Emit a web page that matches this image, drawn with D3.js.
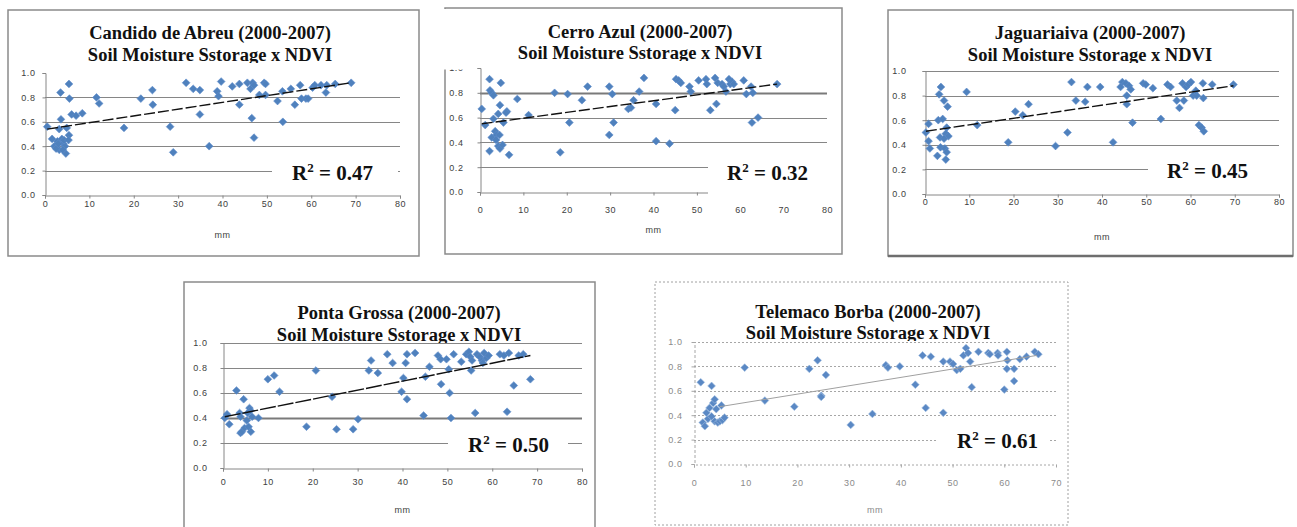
<!DOCTYPE html>
<html lang="en">
<head>
<meta charset="UTF-8">
<title>Soil Moisture Sstorage x NDVI</title>
<style>
  body { margin: 0; background: #fff; }
  svg { display: block; }
</style>
</head>
<body>
<script src="https://d3js.org/d3.v7.min.js"></script>
<script>
// ---- data ----
var stationTitles = [
    "Candido de Abreu (2000-2007)",
    "Cerro Azul (2000-2007)",
    "Jaguariaiva (2000-2007)",
    "Ponta Grossa (2000-2007)",
    "Telemaco Borba (2000-2007)"
];
var subtitle = "Soil Moisture Sstorage x NDVI";
var xLabel = "mm";
var r2Values = ["0.47", "0.32", "0.45", "0.50", "0.61"];
var yTicks = [0, 0.2, 0.4, 0.6, 0.8, 1.0];
var xTicks80 = [0, 10, 20, 30, 40, 50, 60, 70, 80];
var xTicks70 = [0, 10, 20, 30, 40, 50, 60, 70];

// [soil moisture storage (mm), NDVI]
var candido = [
    [0.5, 0.56], [1.6, 0.46], [2.1, 0.40], [2.8, 0.44], [3.2, 0.37], [3.5, 0.84], [3.6, 0.62],
    [3.2, 0.54], [3.8, 0.46], [4.1, 0.42], [4.5, 0.40], [4.3, 0.45], [4.7, 0.34], [4.9, 0.55],
    [5.4, 0.91], [5.5, 0.79], [5.4, 0.49], [5.3, 0.45], [2.5, 0.38], [3.0, 0.42], [4.0, 0.37],
    [6.0, 0.66], [7.0, 0.65], [8.4, 0.67], [11.6, 0.80], [12.2, 0.75], [17.8, 0.55], [21.6, 0.79],
    [24.2, 0.86], [24.3, 0.74], [28.2, 0.56], [28.9, 0.35], [31.8, 0.92], [33.4, 0.87], [34.9, 0.86],
    [34.9, 0.66], [37.0, 0.40], [38.8, 0.85], [39.1, 0.81], [39.7, 0.93], [42.2, 0.89], [43.8, 0.91],
    [43.8, 0.74], [45.6, 0.92], [46.3, 0.87], [46.8, 0.92], [47.1, 0.90], [46.6, 0.63], [47.1, 0.47],
    [48.3, 0.82], [49.4, 0.92], [49.7, 0.91], [49.7, 0.82], [52.4, 0.77], [53.5, 0.85], [53.6, 0.60],
    [55.4, 0.87], [56.3, 0.74], [57.5, 0.90], [57.8, 0.79], [58.8, 0.79], [59.3, 0.79], [60.3, 0.88],
    [60.8, 0.90], [62.2, 0.90], [63.5, 0.90], [63.3, 0.84], [65.4, 0.91], [69.0, 0.92]
];
var cerro = [
    [0.4, 0.67], [1.2, 0.54], [2.2, 0.91], [2.3, 0.82], [2.7, 0.80], [3.1, 0.78], [2.2, 0.33],
    [3.1, 0.59], [2.7, 0.44], [3.5, 0.49], [3.8, 0.46], [4.2, 0.63], [4.6, 0.70], [4.8, 0.88],
    [4.5, 0.46], [3.7, 0.42], [4.2, 0.37], [4.6, 0.35], [5.2, 0.38], [5.4, 0.56], [6.2, 0.65],
    [6.0, 0.64], [6.7, 0.30], [8.6, 0.75], [11.2, 0.62], [17.2, 0.80], [18.5, 0.32], [20.2, 0.79],
    [20.6, 0.56], [23.5, 0.74], [24.8, 0.85], [29.8, 0.85], [29.8, 0.46], [30.5, 0.79], [30.8, 0.56],
    [34.2, 0.67], [34.8, 0.68], [35.4, 0.74], [36.7, 0.81], [37.8, 0.92], [40.6, 0.71], [40.6, 0.41],
    [43.7, 0.39], [45.0, 0.66], [45.2, 0.91], [45.8, 0.90], [46.3, 0.88], [48.3, 0.85], [48.6, 0.81],
    [50.4, 0.90], [52.1, 0.91], [52.3, 0.87], [53.1, 0.66], [54.2, 0.92], [54.5, 0.71], [54.8, 0.88],
    [55.8, 0.87], [56.2, 0.85], [56.7, 0.81], [57.4, 0.91], [57.7, 0.87], [58.1, 0.89], [58.5, 0.87],
    [60.8, 0.90], [61.4, 0.79], [62.5, 0.85], [62.7, 0.56], [62.9, 0.80], [64.1, 0.60], [68.5, 0.87]
];
var jaguariaiva = [
    [0.2, 0.50], [0.8, 0.57], [0.8, 0.43], [1.1, 0.37], [2.8, 0.31], [3.0, 0.60], [3.2, 0.81],
    [3.6, 0.87], [3.4, 0.46], [3.5, 0.38], [4.0, 0.61], [4.3, 0.76], [4.5, 0.37], [4.7, 0.28],
    [4.9, 0.54], [4.9, 0.34], [5.1, 0.71], [4.7, 0.49], [5.3, 0.47], [4.3, 0.45], [9.4, 0.83],
    [11.8, 0.56], [18.8, 0.42], [20.4, 0.67], [22.1, 0.64], [23.4, 0.73], [29.5, 0.39], [32.2, 0.50],
    [33.1, 0.91], [34.1, 0.76], [36.2, 0.75], [36.7, 0.87], [39.6, 0.87], [42.5, 0.42], [44.6, 0.91],
    [44.2, 0.87], [45.4, 0.90], [45.6, 0.80], [45.6, 0.73], [46.1, 0.88], [46.5, 0.85], [46.9, 0.58],
    [49.3, 0.90], [49.9, 0.89], [51.5, 0.86], [53.3, 0.61], [54.8, 0.89], [55.5, 0.87], [56.9, 0.76],
    [57.5, 0.70], [58.2, 0.90], [58.5, 0.76], [59.0, 0.87], [59.5, 0.89], [60.1, 0.91], [60.6, 0.80],
    [61.4, 0.80], [61.2, 0.84], [61.9, 0.56], [62.5, 0.54], [63.0, 0.51], [62.8, 0.90], [62.9, 0.78],
    [64.9, 0.89], [69.7, 0.89]
];
var pontaGrossa = [
    [0.4, 0.40], [0.9, 0.43], [1.4, 0.35], [3.0, 0.62], [3.7, 0.44], [3.9, 0.41], [3.9, 0.28],
    [4.2, 0.29], [4.6, 0.55], [4.8, 0.32], [5.3, 0.38], [5.5, 0.44], [5.7, 0.33], [5.9, 0.48],
    [6.1, 0.46], [6.2, 0.29], [6.5, 0.41], [7.9, 0.40], [10.0, 0.71], [11.4, 0.74], [12.6, 0.61],
    [18.6, 0.33], [20.7, 0.78], [24.3, 0.57], [25.3, 0.31], [29.0, 0.31], [30.1, 0.39], [32.5, 0.78],
    [33.0, 0.86], [34.5, 0.76], [36.6, 0.91], [37.8, 0.84], [39.8, 0.61], [40.2, 0.72], [40.7, 0.84],
    [41.0, 0.91], [41.0, 0.55], [42.8, 0.92], [44.7, 0.42], [45.1, 0.73], [46.0, 0.81], [47.9, 0.90],
    [48.5, 0.87], [48.6, 0.67], [49.8, 0.87], [50.3, 0.79], [50.5, 0.60], [50.8, 0.40], [51.4, 0.91],
    [53.1, 0.85], [54.2, 0.91], [54.8, 0.93], [55.1, 0.89], [55.3, 0.78], [55.5, 0.86], [56.2, 0.44],
    [56.6, 0.91], [57.2, 0.89], [57.7, 0.86], [57.9, 0.84], [58.2, 0.92], [58.7, 0.88], [59.2, 0.90],
    [61.7, 0.91], [62.6, 0.90], [63.3, 0.45], [63.7, 0.92], [64.8, 0.66], [65.9, 0.90], [66.9, 0.91],
    [68.5, 0.71]
];
var telemacoBorba = [
    [1.3, 0.67], [1.7, 0.34], [2.1, 0.31], [2.4, 0.42], [2.7, 0.37], [3.0, 0.46], [3.4, 0.64],
    [3.4, 0.39], [3.7, 0.50], [4.0, 0.53], [4.0, 0.35], [4.3, 0.45], [4.6, 0.34], [5.0, 0.35],
    [5.3, 0.48], [5.5, 0.36], [5.9, 0.38], [9.8, 0.79], [13.7, 0.52], [19.4, 0.47], [22.3, 0.78],
    [23.9, 0.85], [24.6, 0.56], [24.6, 0.55], [25.5, 0.73], [30.3, 0.32], [34.5, 0.41], [37.1, 0.81],
    [37.5, 0.79], [39.8, 0.80], [42.8, 0.65], [44.2, 0.89], [44.8, 0.46], [45.8, 0.88], [48.2, 0.84],
    [48.2, 0.42], [49.5, 0.84], [50.1, 0.82], [50.8, 0.77], [51.5, 0.78], [52.1, 0.89], [52.6, 0.95],
    [53.0, 0.91], [53.4, 0.84], [53.7, 0.63], [55.0, 0.92], [56.9, 0.91], [57.2, 0.90], [58.7, 0.91],
    [58.8, 0.89], [60.0, 0.61], [60.5, 0.92], [60.6, 0.85], [60.5, 0.78], [61.9, 0.78], [61.9, 0.68],
    [63.0, 0.86], [64.3, 0.88], [65.9, 0.92], [66.6, 0.90]
];

// linear trend lines as drawn (start, end)
var trendCandido = [[0.5, 0.54], [69.0, 0.92]];
var trendCerro = [[0.4, 0.55], [68.5, 0.87]];
var trendJaguariaiva = [[0.2, 0.51], [69.7, 0.88]];
var trendPonta = [[0.4, 0.41], [68.5, 0.90]];
var trendTelemaco = [[5.0, 0.47], [66.3, 0.89]];

var seriesList = [candido, cerro, jaguariaiva, pontaGrossa, telemacoBorba];
var trendList = [trendCandido, trendCerro, trendJaguariaiva, trendPonta, trendTelemaco];
var xTickList = [xTicks80, xTicks80, xTicks80, xTicks80, xTicks70];

// ---- layout (pixel positions of each chart box) ----
var layout = [
    { box: [8, 10, 419, 256], plot: [45, 73, 400, 195], titleX: 210, titleY: [39, 61], yLabR: 35, xLabY: 204, mmY: 235, r2: [292, 180], r2Mask: [272, 158, 126, 28], gridTop: false, dash: '11,3' },
    { box: [445, 8, 842, 254], plot: [480, 68, 827, 192], titleX: 640, titleY: [38, 59], yLabR: 463, xLabY: 210, mmY: 230, r2: [727, 180], r2Mask: [708, 160, 128, 36], gridTop: false, boldGrid: 0.8, cutTopLabel: 69.5, dash: '11,3' },
    { box: [888, 10, 1293, 256], plot: [925, 71, 1279, 194], titleX: 1090, titleY: [39, 61], yLabR: 906, xLabY: 202, mmY: 237, r2: [1167, 178], r2Mask: [1148, 152, 131, 28], gridTop: true, dash: '11,3', darkBottom: true },
    { box: [184, 282, 595, 560], plot: [223, 343, 582, 468], titleX: 399, titleY: [319, 341], yLabR: 207, xLabY: 482, mmY: 510, r2: [468, 452], r2Mask: [448, 430, 120, 28], gridTop: true, boldGrid: 0.4, dash: '16,2' },
    { box: [655, 282, 1068, 525], plot: [694, 342, 1056, 464], titleX: 868, titleY: [318, 339], yLabR: 682, xLabY: 483, mmY: 510, r2: [957, 448], r2Mask: [937, 428, 112, 24], gridTop: true, dotted: true }
];

var width = 1297;
var height = 527;
var svg = d3.select('body').append('svg').attr('width', width).attr('height', height);
svg.append('rect').attr('width', width).attr('height', height).attr('fill', '#fff');

var serif = '"Liberation Serif", "Times New Roman", serif';
var sans = '"Liberation Sans", Arial, sans-serif';
var diamond = d3.symbol().type(d3.symbolSquare).size(30);

layout.forEach(function (L, i) {
    var g = svg.append('g');
    var dotted = !!L.dotted;
    var lineColor = dotted ? '#a6a6a6' : '#868686';
    var labelColor = dotted ? '#8a8a8a' : '#404040';
    var xTicks = xTickList[i];

    // chart border
    g.append('rect')
        .attr('x', L.box[0]).attr('y', L.box[1])
        .attr('width', L.box[2] - L.box[0]).attr('height', L.box[3] - L.box[1])
        .attr('fill', '#fff')
        .attr('stroke', dotted ? '#a0a0a0' : '#8a8a8a')
        .attr('stroke-width', dotted ? 1 : 1.5)
        .attr('stroke-dasharray', dotted ? '2,2' : null);
    if (L.darkBottom) {
        g.append('line')
            .attr('x1', L.box[0]).attr('x2', L.box[2])
            .attr('y1', L.box[3]).attr('y2', L.box[3])
            .attr('stroke', '#6e6e6e').attr('stroke-width', 2.5);
    }

    var x = d3.scaleLinear().domain([0, d3.max(xTicks)]).range([L.plot[0], L.plot[2]]);
    var y = d3.scaleLinear().domain([0, 1]).range([L.plot[3], L.plot[1]]);

    // title (two lines)
    [stationTitles[i], subtitle].forEach(function (t, k) {
        g.append('text')
            .attr('x', L.titleX).attr('y', L.titleY[k])
            .attr('text-anchor', 'middle')
            .attr('font-family', serif).attr('font-weight', 'bold')
            .attr('font-size', 18.5).attr('fill', '#111')
            .text(t);
    });

    // plot area cuts off the bottom of the title
    g.append('rect')
        .attr('x', L.plot[0] - 2).attr('y', L.titleY[1] + 2)
        .attr('width', L.plot[2] - L.plot[0] + 4).attr('height', L.plot[3] - L.titleY[1] - 2)
        .attr('fill', '#fff');

    // horizontal grid
    var gridVals = yTicks.filter(function (d) { return d > 0 && (L.gridTop || d < 1); });
    g.selectAll('line.grid').data(gridVals).enter().append('line')
        .attr('class', 'grid')
        .attr('x1', L.plot[0]).attr('x2', L.plot[2])
        .attr('y1', function (d) { return Math.round(y(d)) + 0.5; })
        .attr('y2', function (d) { return Math.round(y(d)) + 0.5; })
        .attr('stroke', function (d) { return L.boldGrid === d ? '#7a7a7a' : lineColor; })
        .attr('stroke-width', function (d) { return L.boldGrid === d ? 2 : 1; })
        .attr('stroke-dasharray', dotted ? '2,2' : null);

    // y axis
    var yAxis = g.append('g')
        .attr('transform', 'translate(' + (L.plot[0] + 0.5) + ',0)')
        .call(d3.axisLeft(y).tickValues(yTicks).tickFormat(d3.format('.1f'))
            .tickSizeOuter(0).tickSize(3).tickPadding(L.plot[0] - L.yLabR - 3));
    yAxis.select('.domain').attr('stroke', lineColor).attr('stroke-dasharray', dotted ? '3,2' : null);
    yAxis.selectAll('.tick line').attr('stroke', lineColor);
    yAxis.selectAll('.tick text')
        .attr('font-family', sans).attr('font-size', 9)
        .attr('letter-spacing', '0.6px').attr('fill', labelColor);

    if (L.cutTopLabel) {
        g.append('rect')
            .attr('x', L.yLabR - 22).attr('y', L.box[1] + 1)
            .attr('width', L.plot[0] - L.yLabR + 18).attr('height', L.cutTopLabel - L.box[1] - 1)
            .attr('fill', '#fff');
    }

    // x axis
    var xAxis = g.append('g')
        .attr('transform', 'translate(0,' + (Math.round(y(0)) + 0.5) + ')')
        .call(d3.axisBottom(x).tickValues(xTicks)
            .tickSizeOuter(0).tickSize(3).tickPadding(L.xLabY - y(0) - 6.5));
    xAxis.select('.domain').attr('stroke', lineColor).attr('stroke-dasharray', dotted ? '2,2' : null);
    xAxis.selectAll('.tick line').attr('stroke', lineColor);
    xAxis.selectAll('.tick text')
        .attr('font-family', sans).attr('font-size', 9)
        .attr('letter-spacing', '0.6px').attr('fill', labelColor);

    // axis title
    g.append('text')
        .attr('x', (L.plot[0] + L.plot[2]) / 2).attr('y', L.mmY + 3)
        .attr('text-anchor', 'middle')
        .attr('font-family', sans).attr('font-size', 9)
        .attr('letter-spacing', '0.6px').attr('fill', labelColor)
        .text(xLabel);

    // points
    g.selectAll('path.pt').data(seriesList[i]).enter().append('path')
        .attr('class', 'pt')
        .attr('d', diamond)
        .attr('transform', function (d) {
            return 'translate(' + x(d[0]) + ',' + y(d[1]) + ') rotate(45)';
        })
        .attr('fill', dotted ? '#5a88c4' : '#4f81bd')
        .attr('stroke', dotted ? '#9dbbe0' : '#5d8ccb')
        .attr('stroke-width', 0.6);

    // trend line
    var line = d3.line().x(function (d) { return x(d[0]); }).y(function (d) { return y(d[1]); });
    g.append('path')
        .datum(trendList[i])
        .attr('d', line)
        .attr('fill', 'none')
        .attr('stroke', dotted ? '#a0a0a0' : '#111')
        .attr('stroke-width', dotted ? 1 : 1.4)
        .attr('stroke-dasharray', dotted ? null : L.dash);

    // R² label on a white patch
    g.append('rect')
        .attr('x', L.r2Mask[0]).attr('y', L.r2Mask[1])
        .attr('width', L.r2Mask[2]).attr('height', L.r2Mask[3])
        .attr('fill', '#fff');
    var r2 = g.append('text')
        .attr('x', L.r2[0]).attr('y', L.r2[1])
        .attr('font-family', serif).attr('font-weight', 'bold')
        .attr('font-size', 21).attr('fill', '#111');
    r2.append('tspan').text('R');
    r2.append('tspan').attr('font-size', 13).attr('dy', -8).text('2');
    r2.append('tspan').attr('dy', 8).text(' = ' + r2Values[i]);
});
</script>
</body>
</html>
